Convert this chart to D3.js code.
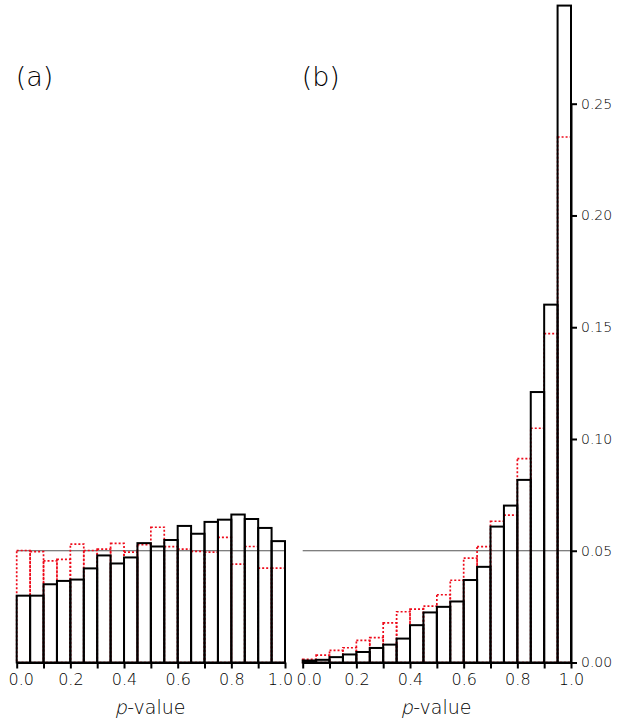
<!DOCTYPE html>
<html>
<head>
<meta charset="utf-8">
<script src="https://cdn.jsdelivr.net/npm/d3@7"></script>
<style>
  html, body { margin: 0; padding: 0; background: #fff; }
  svg { display: block; font-family: "DejaVu Sans", sans-serif; font-weight: 300; }
</style>
</head>
<body>
<svg id="chart" width="623" height="724"></svg>
<script>
// bin left edges (width 0.05)
const binStarts = [0.00,0.05,0.10,0.15,0.20,0.25,0.30,0.35,0.40,0.45,0.50,0.55,0.60,0.65,0.70,0.75,0.80,0.85,0.90,0.95];
const binWidth = 0.05;

// panel (a)
const aBlack = [0.0299,0.0299,0.0350,0.0365,0.0371,0.0421,0.0479,0.0443,0.0470,0.0534,0.0519,0.0548,0.0611,0.0576,0.0629,0.0639,0.0662,0.0642,0.0602,0.0543];
const aRed   = [0.0501,0.0496,0.0455,0.0461,0.0530,0.0501,0.0507,0.0533,0.0494,0.0527,0.0605,0.0518,0.0507,0.0497,0.0494,0.0560,0.0440,0.0519,0.0422,0.0422];

// panel (b)
const bBlack = [0.0009,0.0012,0.0024,0.0036,0.0047,0.0065,0.0080,0.0107,0.0167,0.0224,0.0249,0.0273,0.0369,0.0428,0.0608,0.0702,0.0817,0.1210,0.1601,0.2939];
const bRed   = [0.0014,0.0033,0.0054,0.0066,0.0099,0.0111,0.0177,0.0227,0.0239,0.0252,0.0303,0.0368,0.0467,0.0518,0.0632,0.0659,0.0912,0.1048,0.1471,0.2351];

const xTicks = [0,0.1,0.2,0.3,0.4,0.5,0.6,0.7,0.8,0.9,1.0];
const xTickLabels = ["0.0","","0.2","","0.4","","0.6","","0.8","","1.0"];
const yTicks = [0,0.05,0.10,0.15,0.20,0.25];
const yTickLabels = ["0.00","0.05","0.10","0.15","0.20","0.25"];
const refLevel = 0.05;
const panelLabels = ["(a)","(b)"];
const axisTitleItalic = "p";
const axisTitleRest = "-value";

const svg = d3.select("#chart");
const y = d3.scaleLinear().domain([0,0.25]).range([662.5,103.7]);

function panel(xRange, black, red, label, rightAxis, endShift) {
  const x = d3.scaleLinear().domain([0,1]).range(xRange);
  const g = svg.append("g");

  // reference line
  g.append("line")
    .attr("x1", x(0)).attr("x2", x(1))
    .attr("y1", y(refLevel)).attr("y2", y(refLevel))
    .attr("stroke", "#555").attr("stroke-width", 1.2);

  // red dotted bars
  g.selectAll("rect.red").data(red).join("rect")
    .attr("class","red")
    .attr("x", (d,i) => x(binStarts[i]))
    .attr("width", (d,i) => x(binStarts[i]+binWidth) - x(binStarts[i]))
    .attr("y", d => y(d))
    .attr("height", d => y(0) - y(d))
    .attr("fill", "none")
    .attr("stroke", "#ee0a1a").attr("stroke-width", 1.7)
    .attr("stroke-dasharray", "2,2");

  // black bars
  g.selectAll("rect.black").data(black).join("rect")
    .attr("class","black")
    .attr("x", (d,i) => x(binStarts[i]))
    .attr("width", (d,i) => x(binStarts[i]+binWidth) - x(binStarts[i]))
    .attr("y", d => y(d))
    .attr("height", d => y(0) - y(d))
    .attr("fill", "none")
    .attr("stroke", "#000").attr("stroke-width", 2);

  // x axis
  const ax = d3.axisBottom(x).tickValues(xTicks)
    .tickFormat((d,i) => xTickLabels[i]).tickSize(6).tickPadding(5).tickSizeOuter(0);
  const axG = g.append("g").attr("transform", `translate(0,${y(0)})`).call(ax);
  axG.attr("font-family", null).attr("font-size", null);
  axG.select(".domain").attr("stroke-width", 2);
  axG.selectAll(".tick line").attr("stroke-width", 2);
  axG.selectAll(".tick text").attr("font-size", 16).attr("fill", "#000")
    .attr("dx", (d,i) => i === 0 ? endShift[0] : (i === xTicks.length-1 ? endShift[1] : 0));

  // axis title: italic "p" (synthetic slant of the light face) + "-value"
  const cx = (xRange[0]+xRange[1])/2 - 1, ty = 714;
  const pT = g.append("text").attr("font-size", 19).attr("fill", "#000").text(axisTitleItalic);
  const rT = g.append("text").attr("font-size", 19).attr("fill", "#000").text(axisTitleRest);
  const pw = pT.node().getComputedTextLength();
  const rw = rT.node().getComputedTextLength();
  const x0 = cx - (pw + rw) / 2;
  pT.attr("transform", `translate(${x0},${ty}) skewX(-13)`);
  rT.attr("x", x0 + pw + 0.5).attr("y", ty);

  // panel label
  g.append("text").attr("x", xRange[0] - 1).attr("y", 86)
    .attr("font-size", 27).attr("fill", "#000").text(label);

  if (rightAxis) {
    const ay = d3.axisRight(y).tickValues(yTicks)
      .tickFormat((d,i) => yTickLabels[i]).tickSize(6).tickPadding(4).tickSizeOuter(0);
    const ayG = g.append("g").attr("transform", `translate(${x(1)},0)`).call(ay);
    ayG.attr("font-family", null).attr("font-size", null);
    ayG.select(".domain").attr("stroke-width", 2);
    ayG.selectAll(".tick line").attr("stroke-width", 2);
    ayG.selectAll(".tick text").attr("font-size", 14).attr("fill", "#000");
  }
}

panel([16.7, 285], aBlack, aRed, panelLabels[0], false, [4, -5]);
panel([302.7, 571], bBlack, bRed, panelLabels[1], true, [6, 0]);
</script>
</body>
</html>
